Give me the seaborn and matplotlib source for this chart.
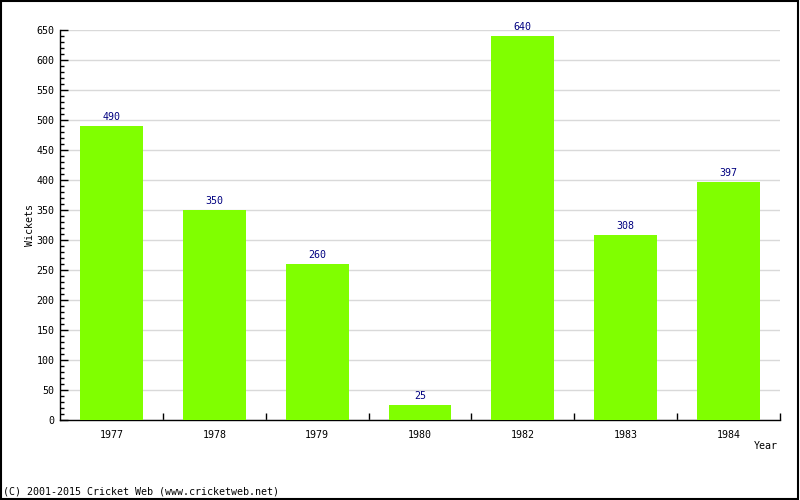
import matplotlib
matplotlib.use("Agg")
import matplotlib.pyplot as plt
import seaborn as sns
import pandas as pd
from matplotlib.patches import Rectangle
from matplotlib.ticker import MultipleLocator, FixedLocator

years = ["1977", "1978", "1979", "1980", "1982", "1983", "1984"]
wickets = [490, 350, 260, 25, 640, 308, 397]

sns.set_style("white")
plt.rcParams['font.family'] = ['DejaVu Sans Mono']
plt.rcParams['text.color'] = 'black'
plt.rcParams['xtick.color'] = 'black'
plt.rcParams['ytick.color'] = 'black'
plt.rcParams['xtick.labelcolor'] = 'black'
plt.rcParams['ytick.labelcolor'] = 'black'
FS = 7.2

df = pd.DataFrame({"Year": years, "Wickets": wickets})

fig = plt.figure(figsize=(8, 5), dpi=100)
ax = fig.add_axes([60/800, 80/500, 720/800, 390/500])
sns.barplot(data=df, x="Year", y="Wickets", color="#80FF00", saturation=1,
            width=0.61, ax=ax, zorder=3, linewidth=0, edgecolor="none")

ax.set_xlim(-0.5, len(years) - 0.5)
ax.set_ylim(0, 650)
ax.yaxis.set_major_locator(MultipleLocator(50))
ax.yaxis.set_minor_locator(MultipleLocator(10))
ax.grid(axis="y", which="major", color="#d9d9d9", linewidth=1, zorder=0)
ax.set_axisbelow(True)

ax.tick_params(axis="y", which="major", left=True, direction="in", length=6, width=1,
               labelsize=FS, pad=4, colors="black")
ax.tick_params(axis="y", which="minor", left=True, direction="in", length=3, width=1,
               colors="black")
ax.xaxis.set_minor_locator(FixedLocator([i + 0.5 for i in range(len(years))]))
ax.tick_params(axis="x", which="major", bottom=True, length=0, labelsize=FS, pad=7,
               colors="black")
ax.tick_params(axis="x", which="minor", bottom=True, direction="in", length=5, width=1,
               colors="black")

for s in ["top", "right"]:
    ax.spines[s].set_visible(False)
for s in ["left", "bottom"]:
    ax.spines[s].set_color("black")
    ax.spines[s].set_linewidth(1)

for i, v in enumerate(wickets):
    ax.annotate(str(v), (i, v), xytext=(0, 3), textcoords="offset points",
                ha="center", va="bottom", color="#000080", fontsize=FS)

ax.set_xlabel("")
ax.set_ylabel("")
fig.text(30/800, 1 - 225/500, "Wickets", rotation=90, ha="center", va="center",
         fontsize=FS, color="black")
fig.text(778/800, 1 - 446/500, "Year", ha="right", va="center", fontsize=FS,
         color="black")
fig.text(3/800, 1 - 492/500, "(C) 2001-2015 Cricket Web (www.cricketweb.net)",
         ha="left", va="center", fontsize=FS, color="black")

fig.patches.append(Rectangle((0.001, 0.003), 0.996, 0.995, transform=fig.transFigure,
                             fill=False, edgecolor="black", linewidth=1.5))

fig.savefig("out.png", dpi=100)
